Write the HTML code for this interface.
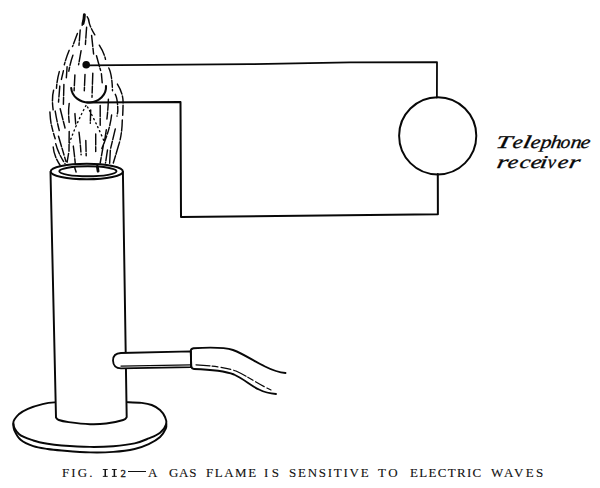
<!DOCTYPE html>
<html><head><meta charset="utf-8"><style>
html,body{margin:0;padding:0;background:#fff;}
body{width:600px;height:488px;position:relative;overflow:hidden;}
svg{position:absolute;left:0;top:0;}
.lbl{position:absolute;font-family:"Liberation Serif",serif;font-style:italic;color:#080808;white-space:nowrap;transform-origin:0 0;line-height:1;font-size:18px;-webkit-text-stroke:0.3px #080808;}
.cap{position:absolute;font-family:"Liberation Serif",serif;color:#111;white-space:nowrap;line-height:1;top:467.6px;font-size:11.8px;-webkit-text-stroke:0.12px #111;transform-origin:0 0;}
.num{position:absolute;font-family:"Liberation Serif",serif;color:#111;white-space:nowrap;line-height:1;}
</style></head><body>
<svg width="600" height="488" viewBox="0 0 600 488">
<g fill="none" stroke="#080808" stroke-linecap="round" stroke-linejoin="round">
<path d="M71.2,88 A17.4,15.5 0 0 0 106,86" stroke-width="2.1"/>
<path d="M86,65.3 L250,64.2 L350,62.4 L437,62.2 L436.9,97.5" stroke-width="1.8"/>
<path d="M87,102.6 L180.5,102 L181,217 L437.9,214.2 L437.8,174" stroke-width="2.0"/>
<circle cx="437.7" cy="135.8" r="38.6" stroke-width="1.95"/>
<path d="M13.30,423.00 C13.23,419.68 16.37,416.67 18.80,414.30 C21.23,411.93 24.08,410.45 27.90,408.80 C31.72,407.15 37.27,405.47 41.70,404.40 C46.13,403.33 46.45,402.93 54.50,402.40 C62.55,401.87 77.97,401.25 90.00,401.20 C102.03,401.15 118.08,401.82 126.70,402.10 C135.32,402.38 137.53,402.42 141.70,402.90 C145.87,403.38 148.65,403.82 151.70,405.00 C154.75,406.18 157.78,408.00 160.00,410.00 C162.22,412.00 163.96,414.67 165.00,417.00 C166.04,419.33 167.07,421.38 166.25,424.00 C165.43,426.62 163.03,430.30 160.10,432.70 C157.17,435.10 152.95,436.62 148.70,438.40 C144.45,440.18 140.50,442.10 134.60,443.40 C128.70,444.70 120.73,445.62 113.30,446.20 C105.87,446.78 98.60,447.02 90.00,446.90 C81.40,446.78 68.78,446.02 61.70,445.50 C54.62,444.98 52.23,444.63 47.50,443.80 C42.77,442.97 38.02,442.10 33.30,440.50 C28.58,438.90 22.53,437.12 19.20,434.20 C15.87,431.28 13.37,426.32 13.30,423.00 Z" stroke-width="1.95"/>
<path d="M13.30,424.00 C13.48,425.08 13.18,427.87 14.40,430.50 C15.62,433.13 17.45,437.18 20.60,439.80 C23.75,442.42 28.82,444.67 33.30,446.20 C37.78,447.73 42.77,448.28 47.50,449.00 C52.23,449.72 54.62,449.93 61.70,450.50 C68.78,451.07 81.40,452.17 90.00,452.40 C98.60,452.63 105.87,452.47 113.30,451.90 C120.73,451.33 128.70,450.30 134.60,449.00 C140.50,447.70 144.45,446.10 148.70,444.10 C152.95,442.10 157.25,439.60 160.10,437.00 C162.95,434.40 164.78,430.67 165.80,428.50 C166.83,426.33 166.18,424.75 166.25,424.00" stroke-width="1.95"/>
<path d="M50.5,172 L56,417.5 C56.47,417.92 56.68,419.23 58.80,420.00 C60.92,420.77 63.50,421.40 68.70,422.10 C73.90,422.80 83.75,423.97 90.00,424.20 C96.25,424.43 100.67,424.20 106.20,423.50 C111.73,422.80 119.78,421.08 123.20,420.00 C126.62,418.92 126.12,417.50 126.70,417.00 L122.9,172 Z" fill="#fff" stroke-width="1.95"/>
<ellipse cx="86.8" cy="171.5" rx="36.1" ry="7.8" fill="#fff" stroke-width="2.0"/>
<ellipse cx="87.9" cy="171.3" rx="28.6" ry="5.0" stroke-width="1.9"/>
<path d="M191,351.4 L121,353 Q113,353.3 113,360.5 Q113.3,368.3 121,368.3 L191,367.1 Z" fill="#fff" stroke-width="1.8"/>
<path d="M121,366.1 L191,364.9" stroke-width="1.3"/>
<path d="M193.5,348.2 Q190.6,348.5 190.7,351.5 L191.3,366 Q191.6,369 194,369 M193.5,348.2 C205,347.5 222,346.5 233,350 C245,354.5 255,362 265,366.5 C273,370.5 279,372.5 285.5,373 M194,369 C210,369.5 225,371 234,374.5 C244,379 251,386 259,389.5 C265,392.5 270,393.5 276,394" stroke-width="1.9"/>
<path d="M196,364.8 C212,365.5 226,367.5 236,371 C247,376 258,384 271,390" stroke-width="1.2" stroke-dasharray="14 2 6 3 10 3"/>
<path d="M84.3,14.6 Q84,21 81.5,27
M87.2,16.8 Q88.8,18.5 89.3,23.1 Q91,29 95.7,36.2
M77.4,33.4 L72.5,46.6
M80.2,30 L79,45.2
M86.6,27.2 L85.4,44.4
M91.6,35.4 L93.6,54
M99.3,45.2 Q104.3,53.2 105.5,59.3
M69.2,50.3 Q66.3,57.3 64.3,64.7
M72.9,55.2 Q70.4,62.2 68.8,71.2
M81.1,50.7 L78.6,64.7
M96.5,55.7 Q98.9,64.7 100.6,70.4
M108.8,68 Q112,74 112.5,90.7
M67.1,66.7 L66.3,78.6
M59.3,71.6 Q56.9,80.2 56.5,88.2
M63.4,70.8 L61.4,79.4
M74.9,74.9 L74.1,90.7
M85,74.5 L84.3,90.7
M92.8,73.3 L92,97.2
M101.4,73.7 L102.2,82.7
M117.4,84.1 Q123,93 123.1,102.1 Q123,110 122.7,115.2
M53.6,90.2 Q51.5,98 53.2,110.3
M59.8,86.1 L58.5,102.1
M63.9,84.5 L63.4,104.6
M115.3,94.3 Q117.8,99 117.8,111.1 L117,116.1
M69.2,103.4 Q68,112 69.2,122.4
M49.9,112 Q50.5,122 51.6,125.7 Q53,132 55.2,138.8
M55.2,111.1 Q57,122 59.3,130.6
M60.2,108.7 Q63,120 65.5,129.8
M74.9,113.6 L75.7,124
M108.4,99.3 Q108,110 106.7,121
M100.2,105.4 L100.2,126.5
M111.6,115 Q110,130 101.4,149.4
M103.4,145 L100.2,163
M122.3,119.9 Q122,135 118.6,145.3 L113.3,163
M115.3,128.9 L110.4,149.4 L109.6,163.9
M106.3,129.8 L104.3,142.9
M95.7,133.9 L95.7,151.6
M85.8,140.4 L86.2,155.7
M107.5,149.9 L105.5,163
M53.2,147 Q54,157 61.4,167.1
M55.7,143.7 Q58,153 65.1,163.9
M58.5,136.3 Q62,148 65.9,161.4
M69.2,131.4 L69,151 L67.1,162.2
M79,132.2 Q80.5,145 81.1,154.8
M73.3,146.1 Q74.5,155 75.3,163.9
M74.5,167.1 L76.1,172
M90.7,110 L90.3,123.2" stroke-width="1.45" stroke-dasharray="11 1.8 7 2.2 13 1.6"/>
<path d="M84.4,14.6 Q84.2,19.5 83,23.5" stroke-width="2.9"/>
<path d="M86,105.5 Q76,124 69.5,143
M87.5,107 Q95,120 104,141" stroke-width="1.4" stroke-dasharray="1.1 3.4"/>
<path d="M97.3,166.3 L98.1,171.2" stroke-width="2.8"/>
<circle cx="86.2" cy="64.8" r="3.8" fill="#080808" stroke="none"/>
</g>
</svg>
<div class="lbl" style="left:494.65px;top:132.86px;transform-origin:0 14.94px;transform:scaleX(1.580) skewX(-7deg)">T</div><div class="lbl" style="left:511.62px;top:132.86px;transform-origin:0 14.94px;transform:scaleX(1.255) skewX(-7deg)">e</div><div class="lbl" style="left:521.71px;top:132.86px;transform-origin:0 14.94px;transform:scaleX(1.600) skewX(-7deg)">l</div><div class="lbl" style="left:530.24px;top:132.86px;transform-origin:0 14.94px;transform:scaleX(1.227) skewX(-7deg)">e</div><div class="lbl" style="left:539.50px;top:132.86px;transform-origin:0 14.94px;transform:scaleX(1.206) skewX(-7deg)">p</div><div class="lbl" style="left:549.63px;top:132.86px;transform-origin:0 14.94px;transform:scaleX(1.217) skewX(-7deg)">h</div><div class="lbl" style="left:560.22px;top:132.86px;transform-origin:0 14.94px;transform:scaleX(1.073) skewX(-7deg)">o</div><div class="lbl" style="left:570.03px;top:132.86px;transform-origin:0 14.94px;transform:scaleX(1.217) skewX(-7deg)">n</div><div class="lbl" style="left:579.75px;top:132.86px;transform-origin:0 14.94px;transform:scaleX(1.205) skewX(-7deg)">e</div><div class="lbl" style="left:496.40px;top:153.06px;transform-origin:0 14.94px;transform:scaleX(1.600) skewX(-7deg)">r</div><div class="lbl" style="left:507.49px;top:153.06px;transform-origin:0 14.94px;transform:scaleX(1.313) skewX(-7deg)">e</div><div class="lbl" style="left:518.68px;top:153.06px;transform-origin:0 14.94px;transform:scaleX(1.333) skewX(-7deg)">c</div><div class="lbl" style="left:529.96px;top:153.06px;transform-origin:0 14.94px;transform:scaleX(1.378) skewX(-7deg)">e</div><div class="lbl" style="left:539.01px;top:153.06px;transform-origin:0 14.94px;transform:scaleX(1.502) skewX(-7deg)">i</div><div class="lbl" style="left:547.32px;top:153.06px;transform-origin:0 14.94px;transform:scaleX(1.033) skewX(-7deg)">v</div><div class="lbl" style="left:557.28px;top:153.06px;transform-origin:0 14.94px;transform:scaleX(1.328) skewX(-7deg)">e</div><div class="lbl" style="left:567.68px;top:153.06px;transform-origin:0 14.94px;transform:scaleX(1.600) skewX(-7deg)">r</div>
<div class="cap" style="left:61.91px;letter-spacing:1.93px;transform:scaleX(1.1)">FIG.</div>
<div class="cap" style="left:147.87px;letter-spacing:0.00px;transform:scaleX(1.1)">A</div>
<div class="cap" style="left:168.68px;letter-spacing:0.67px;transform:scaleX(1.1)">GAS</div>
<div class="cap" style="left:206.31px;letter-spacing:1.38px;transform:scaleX(1.1)">FLAME</div>
<div class="cap" style="left:264.48px;letter-spacing:3.07px;transform:scaleX(1.1)">IS</div>
<div class="cap" style="left:289.29px;letter-spacing:1.60px;transform:scaleX(1.1)">SENSITIVE</div>
<div class="cap" style="left:378.49px;letter-spacing:2.41px;transform:scaleX(1.1)">TO</div>
<div class="cap" style="left:409.61px;letter-spacing:1.20px;transform:scaleX(1.1)">ELECTRIC</div>
<div class="cap" style="left:491.25px;letter-spacing:2.09px;transform:scaleX(1.1)">WAVES</div>

<svg style="position:absolute;left:0;top:0" width="600" height="488"><g fill="#111">
<rect x="104.5" y="469.2" width="1.5" height="7.4"/><rect x="102.8" y="469.0" width="4.9" height="0.9"/><rect x="102.8" y="475.9" width="4.9" height="0.9"/>
<rect x="113.6" y="469.2" width="1.5" height="7.4"/><rect x="111.9" y="469.0" width="4.9" height="0.9"/><rect x="111.9" y="475.9" width="4.9" height="0.9"/>
</g></svg>
<div class="num" style="left:120.5px;top:467.9px;font-size:10.8px;-webkit-text-stroke:0.3px #111">2</div>
<div style="position:absolute;left:127.5px;top:471.2px;width:18.4px;height:1.3px;background:#111"></div>
</body></html>
